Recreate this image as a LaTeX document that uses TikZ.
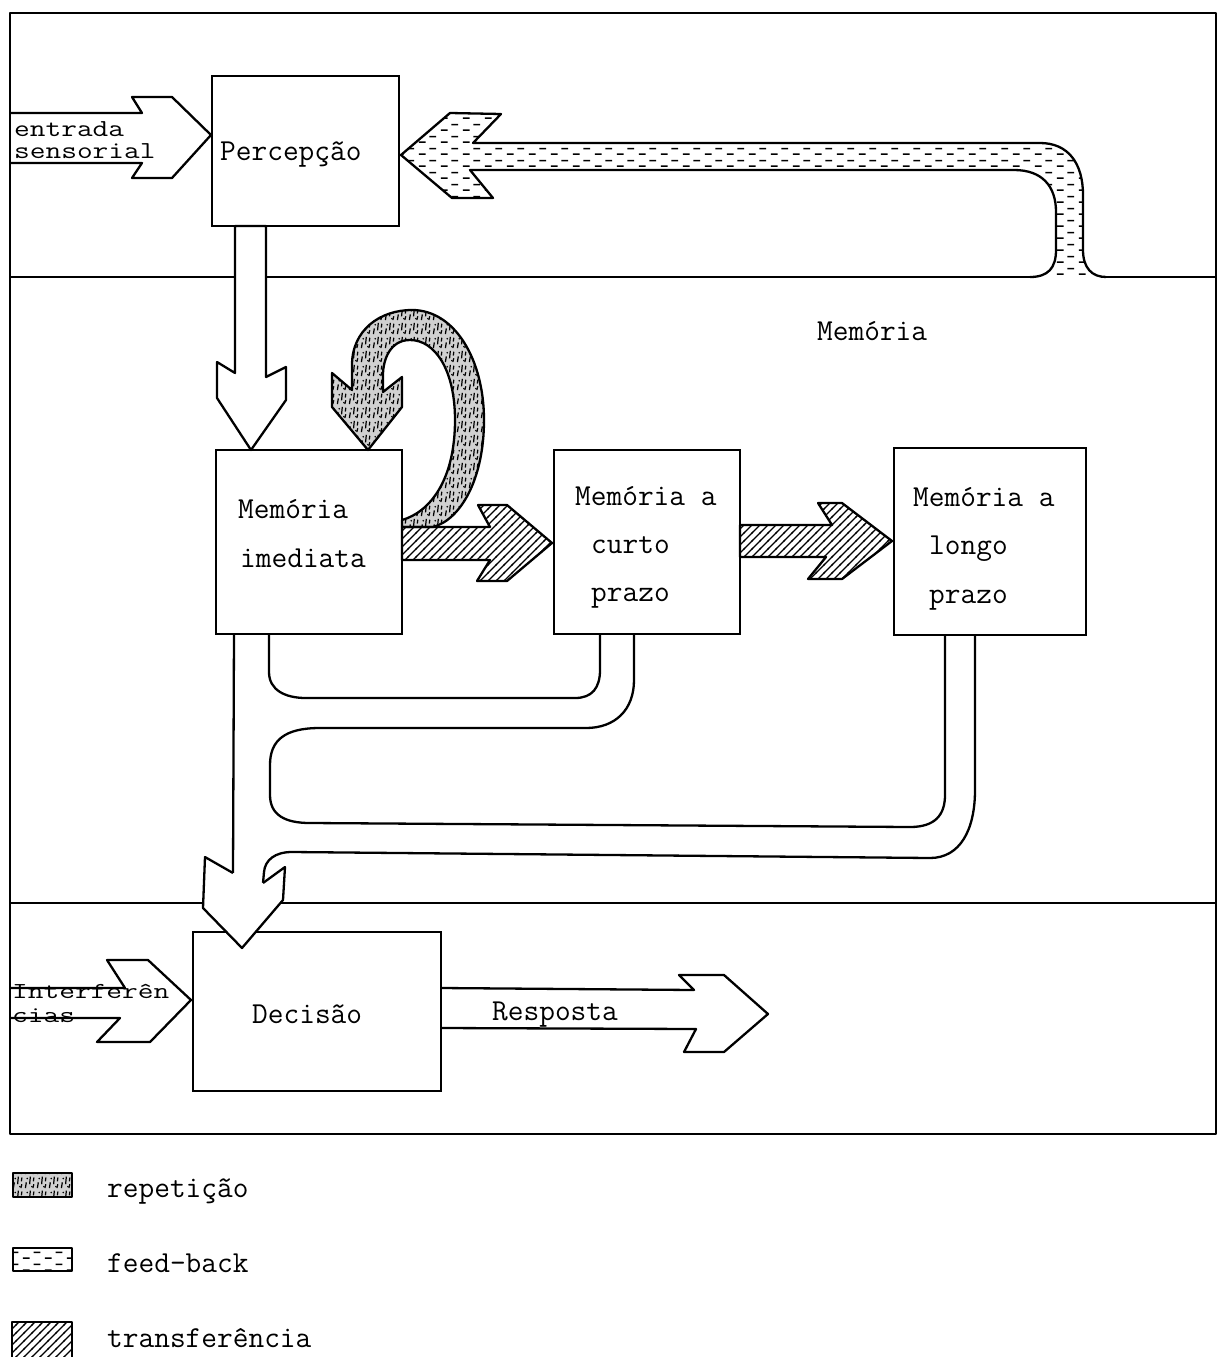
\documentclass[tikz,border=0pt]{standalone}
\usepackage{graphicx}
\usetikzlibrary{patterns}
\pgfdeclarepatternformonly{hatchNE}{\pgfqpoint{-1pt}{-1pt}}{\pgfqpoint{9pt}{9pt}}{\pgfqpoint{8pt}{8pt}}{%
  \pgfsetlinewidth{1.3pt}%
  \pgfpathmoveto{\pgfqpoint{-1pt}{-1pt}}\pgfpathlineto{\pgfqpoint{9pt}{9pt}}\pgfusepath{stroke}}
\pgfdeclarepatternformonly{fbdash}{\pgfqpoint{0pt}{0pt}}{\pgfqpoint{22pt}{12pt}}{\pgfqpoint{22pt}{12pt}}{%
  \pgfsetlinewidth{1.6pt}%
  \pgfpathmoveto{\pgfqpoint{1pt}{3pt}}\pgfpathlineto{\pgfqpoint{8pt}{3pt}}%
  \pgfpathmoveto{\pgfqpoint{12pt}{9pt}}\pgfpathlineto{\pgfqpoint{19pt}{9pt}}%
  \pgfusepath{stroke}}
\pgfdeclarepatternformonly{repet}{\pgfqpoint{0pt}{0pt}}{\pgfqpoint{12pt}{14pt}}{\pgfqpoint{12pt}{14pt}}{%
  \pgfsetlinewidth{1.3pt}%
  \pgfpathmoveto{\pgfqpoint{1.5pt}{1pt}}\pgfpathlineto{\pgfqpoint{2.5pt}{7pt}}%
  \pgfpathmoveto{\pgfqpoint{6pt}{5pt}}\pgfpathlineto{\pgfqpoint{6.8pt}{13pt}}%
  \pgfpathmoveto{\pgfqpoint{9.5pt}{1pt}}\pgfpathlineto{\pgfqpoint{10.5pt}{5pt}}%
  \pgfpathmoveto{\pgfqpoint{10pt}{8pt}}\pgfpathlineto{\pgfqpoint{10.6pt}{12pt}}%
  \pgfusepath{stroke}%
  \pgfpathcircle{\pgfqpoint{3.5pt}{11pt}}{0.9pt}%
  \pgfpathcircle{\pgfqpoint{8.5pt}{2.5pt}}{0.9pt}%
  \pgfusepath{fill}}
\tikzset{
  ln/.style={line width=2.3pt, line join=round},
  boxnode/.style={draw, line width=2.3pt, inner sep=0pt, fill=white},
  txt/.style={font=\fontsize{30.5}{36}\selectfont\ttfamily, inner sep=0pt, anchor=base west},
  reppat/.style={preaction={fill=black!18}, pattern=repet},
  fbpat/.style={pattern=fbdash},
  trpat/.style={pattern=hatchNE},
}
\begin{document}
\begin{tikzpicture}[x=1pt,y=-1pt]
\useasboundingbox (0,0) rectangle (1227,1357);
% frame and separators
\draw[ln] (10,13) rectangle (1216,1134);
\draw[ln] (10,277) -- (1030,277);
\draw[ln] (1106,277) -- (1216,277);
\draw[ln] (10,903) -- (1216,903);
% boxes
\node[boxnode, minimum width=187pt, minimum height=150pt] (perc) at (305.5,151) {};
\node[boxnode, minimum width=186pt, minimum height=184pt] (mi) at (309,542) {};
\node[boxnode, minimum width=186pt, minimum height=184pt] (mcp) at (647,542) {};
\node[boxnode, minimum width=192pt, minimum height=187pt] (mlp) at (990,541.5) {};
\node[boxnode, minimum width=248pt, minimum height=159pt] (dec) at (317,1011.5) {};
% flows to decision
\draw[ln] (234,634) -- (233,873);
\draw[ln] (269,634) -- (269,672) .. controls (269,690) and (285,698) .. (306,698) -- (575,698) .. controls (592,698) and (600,688) .. (600,670) -- (600,634);
\draw[ln] (634,635) -- (634,680) .. controls (634,710) and (615,728) .. (586,728) -- (320,728) .. controls (285,728) and (270,740) .. (270,765) -- (270,795) .. controls (270,815) and (285,823) .. (310,823) -- (910,827) .. controls (935,827) and (945,815) .. (945,795) -- (945,636);
\draw[ln] (975,636) -- (975,790) .. controls (975,830) and (960,858) .. (930,858) -- (292,852) .. controls (275,852) and (265,860) .. (264,872) -- (263,883);
\fill[white] (233,873) -- (205,857) -- (203,908) -- (242,948) -- (283,900) -- (285,867) -- (263,883) -- cycle;
\draw[ln] (233,873) -- (205,857) -- (203,908) -- (242,948) -- (283,900) -- (285,867) -- (263,883);
% perception -> immediate memory
\draw[ln, fill=white] (235,226) -- (235,373) -- (217,362) -- (217,398) -- (251,450) -- (286,400) -- (286,367) -- (266,377) -- (266,226) -- cycle;
% sensory input
\draw[ln] (10,113) -- (142,113) -- (132,97) -- (172,97) -- (211,135) -- (172,178) -- (132,178) -- (142,163) -- (10,163);
% interferences
\draw[ln] (10,988) -- (125,988) -- (107,960) -- (148,960) -- (191,1000) -- (150,1042) -- (97,1042) -- (120,1018) -- (10,1018);
% response
\draw[ln] (441,988) -- (694,990) -- (679,975) -- (724,975) -- (768,1014) -- (724,1052) -- (684,1052) -- (696,1029) -- (441,1028);
% feedback
\fill[fbpat] (1030,277) .. controls (1048,277) and (1056,268) .. (1056,250) -- (1056,212) .. controls (1056,186) and (1042,170) .. (1014,170) -- (470,170) -- (493,198) -- (452,198) -- (401,155) -- (450,113) -- (501,114) -- (473,143) -- (1040,143) .. controls (1068,143) and (1083,163) .. (1083,195) -- (1083,250) .. controls (1083,268) and (1092,277) .. (1106,277) -- cycle;
\draw[ln] (1030,277) .. controls (1048,277) and (1056,268) .. (1056,250) -- (1056,212) .. controls (1056,186) and (1042,170) .. (1014,170) -- (470,170) -- (493,198) -- (452,198) -- (401,155) -- (450,113) -- (501,114) -- (473,143) -- (1040,143) .. controls (1068,143) and (1083,163) .. (1083,195) -- (1083,250) .. controls (1083,268) and (1092,277) .. (1106,277);
% repetition loop
\draw[ln, reppat] (402,527) -- (402,520) .. controls (430,512) and (455,480) .. (455,420) .. controls (455,370) and (435,340) .. (410,340) .. controls (390,340) and (383,360) .. (383,375) -- (383,392) -- (402,377) -- (402,407) -- (368,450) -- (332,407) -- (332,373) -- (352,390) -- (352,365) .. controls (352,330) and (380,310) .. (412,310) .. controls (455,310) and (484,360) .. (484,420) .. controls (484,480) and (460,520) .. (433,527) -- cycle;
% transfers
\draw[ln, trpat] (402,527) -- (490,527) -- (478,505) -- (507,505) -- (552,543) -- (507,581) -- (477,581) -- (490,560) -- (402,560) -- cycle;
\draw[ln, trpat] (740,525) -- (832,525) -- (818,503) -- (842,503) -- (892,541) -- (842,579) -- (808,579) -- (826,557) -- (740,557) -- cycle;
% texts
\node[txt] (t1) at (14,136) {\scalebox{1}[0.8]{entrada}};
\node[txt] (t2) at (14,158) {\scalebox{1}[0.8]{sensorial}};
\node[txt] (t3) at (220,160) {Percepção};
\node[txt] (t4) at (817,340) {Memória};
\node[txt] (t5) at (238,518) {Memória};
\node[txt] (t6) at (240,567) {imediata};
\node[txt] (t7) at (575,505) {Memória a};
\node[txt] (t8) at (591,553) {curto};
\node[txt] (t9) at (591,601) {prazo};
\node[txt] (t10) at (913,506) {Memória a};
\node[txt] (t11) at (929,554) {longo};
\node[txt] (t12) at (929,603) {prazo};
\node[txt] (t13) at (252,1023) {Decisão};
\node[txt] (t14) at (492,1020) {Resposta};
\node[txt] (t15) at (12,998) {\scalebox{1}[0.75]{Interferên}};
\node[txt] (t16) at (12,1022) {\scalebox{1}[0.75]{cias}};
% legend
\draw[ln, reppat] (13,1173) rectangle (72,1197);
\draw[ln, fbpat] (13,1248) rectangle (72,1271);
\draw[ln, trpat] (12,1322) rectangle (72,1362);
\node[txt] (l1) at (107,1197) {repetição};
\node[txt] (l2) at (107,1272) {feed-back};
\node[txt] (l3) at (107,1347) {transferência};
\end{tikzpicture}
\end{document}
